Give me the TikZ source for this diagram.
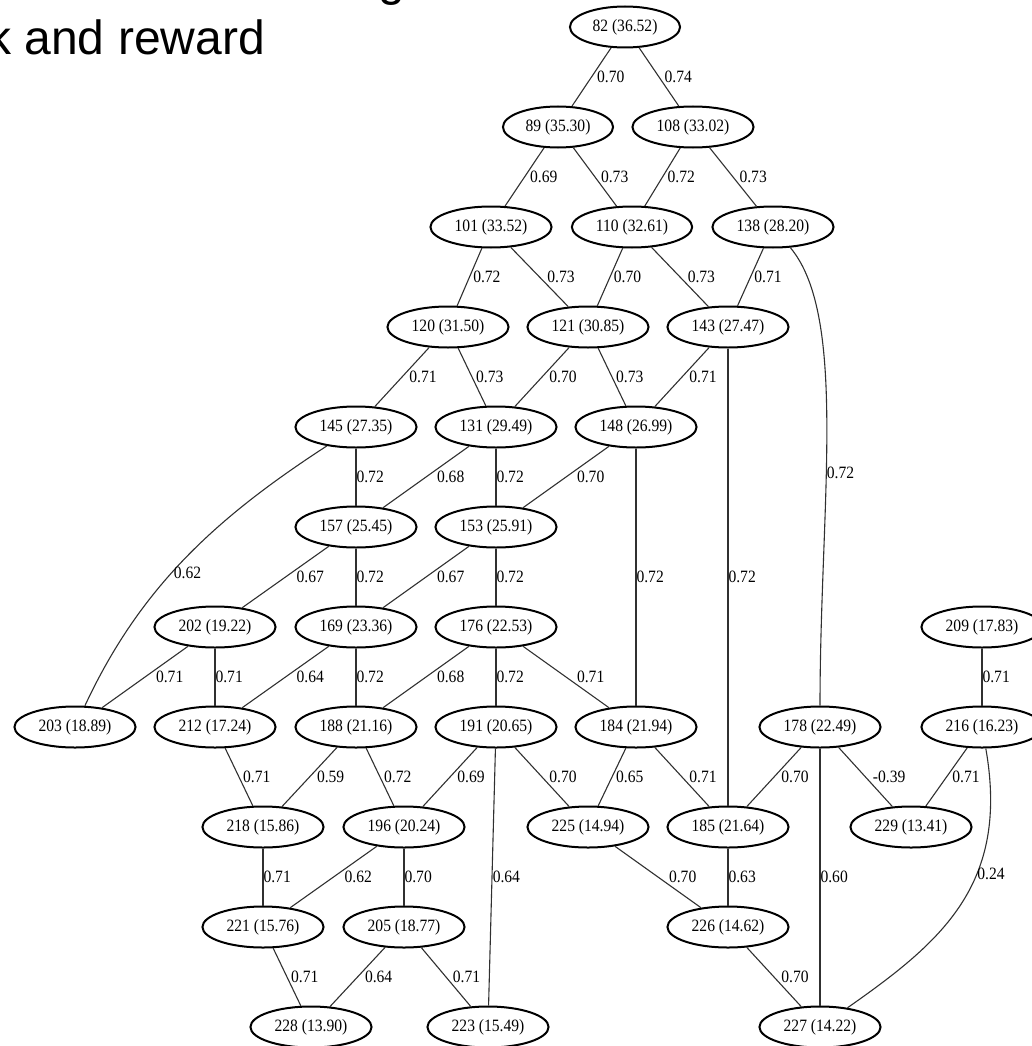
\documentclass[tikz,border=0pt]{standalone}
\usetikzlibrary{shapes.geometric, calc}
\usepackage{fontspec}
\newfontfamily\nodefont{Liberation Serif}[FakeStretch=0.9]
\newfontfamily\slidefont{Liberation Sans}
\usepackage{xcolor}
\definecolor{ink}{HTML}{000000}
\definecolor{edgeink}{HTML}{303030}

\begin{document}
\begin{tikzpicture}[x=1pt, y=-1pt]
  % --- the constants everything else is derived from -----------------------
  \def\ytop{27}    % centre line of the top rank
  \def\py{100}     % rank pitch
  \def\nh{41pt}    % ellipse height
  \def\hh{7.5}     % half height of a weight label: it clears its link by this

  \tikzset{
    state/.style={ellipse, draw=ink, line width=2pt, minimum height=\nh,
      inner xsep=6.5pt, inner ysep=2pt,
      font=\nodefont\fontsize{17.3}{20}\selectfont},
    link/.style={draw=edgeink, line width=1.1pt},
    wt/.style={anchor=west, inner sep=0pt,
      font=\nodefont\fontsize{17.3}{20}\selectfont},
    slide/.style={inner sep=0pt, font=\slidefont\fontsize{48}{56}\selectfont}}

  \useasboundingbox (0,0) rectangle (1031,1046);

  % ---- 1. the slide title, cut by the frame ---------------------------------
  \node[slide, anchor=base east] (title) at (265,55) {k and reward};
  \node[slide, anchor=base west] (gtail) at (378,-4) {g};

  % ---- 2. the states, rank by rank:  id / value / x / rank ------------------
  \foreach \id/\sc/\cx/\rk in {
      82/36.52/625/0,
      89/35.30/558/1, 108/33.02/693/1,
      101/33.52/491/2, 110/32.61/632/2, 138/28.20/773/2,
      120/31.50/448/3, 121/30.85/588/3, 143/27.47/728/3,
      145/27.35/356/4, 131/29.49/496/4, 148/26.99/636/4,
      157/25.45/356/5, 153/25.91/496/5,
      202/19.22/215/6, 169/23.36/356/6, 176/22.53/496/6, 209/17.83/982/6,
      203/18.89/75/7, 212/17.24/215/7, 188/21.16/356/7, 191/20.65/496/7,
      184/21.94/636/7, 178/22.49/820/7, 216/16.23/982/7,
      218/15.86/263/8, 196/20.24/404/8, 225/14.94/588/8, 185/21.64/728/8,
      229/13.41/911/8,
      221/15.76/263/9, 205/18.77/404/9, 226/14.62/728/9,
      228/13.90/311/10, 223/15.49/488/10, 227/14.22/820/10}
    \node[state] (n\id) at (\cx,{\ytop+\rk*\py}) {\id\ (\sc)};

  % ---- 3. straight links; the weight sits just right of its link ------------
  \foreach \src/\dst/\w in {
      82/89/0.70, 82/108/0.74, 89/101/0.69, 89/110/0.73, 108/110/0.72,
      108/138/0.73, 101/120/0.72, 101/121/0.73, 110/121/0.70, 110/143/0.73,
      138/143/0.71, 120/145/0.71, 120/131/0.73, 121/131/0.70, 121/148/0.73,
      143/148/0.71, 143/185/0.72, 145/157/0.72, 131/157/0.68, 131/153/0.72,
      148/153/0.70, 148/184/0.72, 157/202/0.67, 157/169/0.72, 153/169/0.67,
      153/176/0.72, 202/203/0.71, 202/212/0.71, 169/212/0.64, 169/188/0.72,
      176/188/0.68, 176/191/0.72, 176/184/0.71, 209/216/0.71, 212/218/0.71,
      188/218/0.59, 188/196/0.72, 191/196/0.69, 191/225/0.70, 191/223/0.64,
      184/225/0.65, 184/185/0.71, 178/185/0.70, 178/229/-0.39, 178/227/0.60,
      216/229/0.71, 218/221/0.71, 196/221/0.62, 196/205/0.70, 225/226/0.70,
      185/226/0.63, 221/228/0.71, 205/228/0.64, 205/223/0.71, 226/227/0.70}
    \draw[link] let \p1=(n\src), \p2=(n\dst),
        \n1={\hh*abs(\x2-\x1)/abs(\y2-\y1)} in
      (n\src) -- node[wt, xshift=\n1] {\w} (n\dst);

  % ---- 4. the three bent links ----------------------------------------------
  \draw[link] (n138) to[out=-50, in=90, out distance=90, in distance=200]
    node[wt, pos=0.59] {0.72} (n178);
  \draw[link] (n145) to[out=-147, in=65, looseness=0.95]
    node[wt, pos=0.56, xshift=2pt] {0.62} (n203);
  \draw[link] (n216) to[out=-80, in=35, out looseness=1.2]
    node[wt, pos=0.38] {0.24} (n227);
\end{tikzpicture}
\end{document}
